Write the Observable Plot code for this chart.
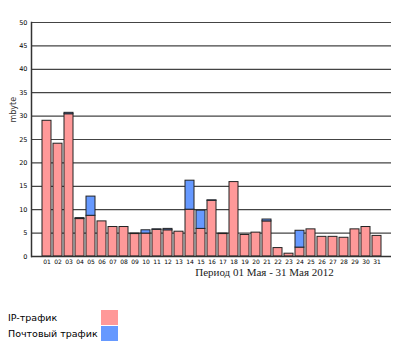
<!DOCTYPE html>
<html><head><meta charset="utf-8">
<script src="https://cdn.jsdelivr.net/npm/d3@7"></script>
<script src="https://cdn.jsdelivr.net/npm/@observablehq/plot@0.6"></script>
<style>
body{margin:0;background:#fff;font-family:"DejaVu Sans",sans-serif;}
#wrap{position:relative;width:405px;height:352px;}
#legend{position:absolute;left:0;top:310px;font-size:9.5px;color:#000;}
.item{position:absolute;left:8px;height:16px;line-height:16px;white-space:nowrap;}
.sw{position:absolute;left:101px;width:17px;height:15px;}
</style>
</head><body>
<div id="wrap"><div id="chart"></div><div id="legend"></div></div>
<script>
const days = ["01","02","03","04","05","06","07","08","09","10","11","12","13","14","15","16","17","18","19","20","21","22","23","24","25","26","27","28","29","30","31"];
const ipTraffic = [29.0,24.1,30.4,8.0,8.7,7.5,6.3,6.3,4.8,4.9,5.7,5.6,5.3,10.0,5.9,11.9,4.8,15.9,4.6,5.1,7.5,1.8,0.6,1.9,5.8,4.2,4.2,4.0,5.8,6.3,4.4];
const mailTraffic = [0,0,0.3,0.2,4.1,0,0,0,0.1,0.7,0.1,0.3,0,6.2,3.9,0.1,0.1,0,0,0,0.4,0,0,3.6,0,0,0,0,0,0,0];
const yTicks = [0,5,10,15,20,25,30,35,40,45,50];
const seriesNames = ["IP-трафик","Почтовый трафик"];
const seriesColors = ["#ff9999","#6699ff"];
const yLabel = "mbyte";
const periodLabel = "Период 01 Мая - 31 Мая 2012";

const data = days.flatMap((d,i)=>[
  {day:d,series:seriesNames[0],value:ipTraffic[i]},
  {day:d,series:seriesNames[1],value:mailTraffic[i]}
]);

const plot = Plot.plot({
  width:405,height:290,
  marginTop:22,marginLeft:31,marginRight:14,marginBottom:34,
  style:{fontFamily:"DejaVu Sans, sans-serif",background:"#fff"},
  x:{domain:days,padding:0.22,label:null},
  y:{domain:[0,50],label:null},
  color:{domain:seriesNames,range:seriesColors},
  marks:[
    Plot.ruleY(yTicks.filter(v=>v>0),{stroke:"#444",strokeWidth:1.2}),
    Plot.barY(data,{x:"day",y:"value",fill:"series",stroke:"#222",strokeWidth:1,order:seriesNames}),
    Plot.axisY({ticks:yTicks,tickSize:0,tickPadding:4,fontSize:6.5,label:null}),
    Plot.axisX({tickSize:0,tickPadding:3,fontSize:6,label:null}),
    Plot.ruleY([0],{stroke:"#333",strokeWidth:1.5}),
    Plot.frame({anchor:"left",stroke:"#333",strokeWidth:1.5}),
    Plot.text([yLabel],{frameAnchor:"top-left",dx:-21,dy:100,rotate:-90,fontSize:8,fill:"#333"}),
    Plot.text([periodLabel],{frameAnchor:"bottom",lineAnchor:"middle",dx:53,dy:16,fontSize:11,fontFamily:"Liberation Serif, serif",fill:"#222"})
  ]
});
document.getElementById("chart").appendChild(plot);

const lg = document.getElementById("legend");
seriesNames.forEach((n,i)=>{
  const it = document.createElement("div");
  it.className="item"; it.style.top=(i*16)+"px";
  it.textContent=n;
  lg.appendChild(it);
  const sw=document.createElement("div");
  sw.className="sw"; sw.style.top=(i*16)+"px"; sw.style.background=seriesColors[i];
  lg.appendChild(sw);
});
</script>
</body></html>
